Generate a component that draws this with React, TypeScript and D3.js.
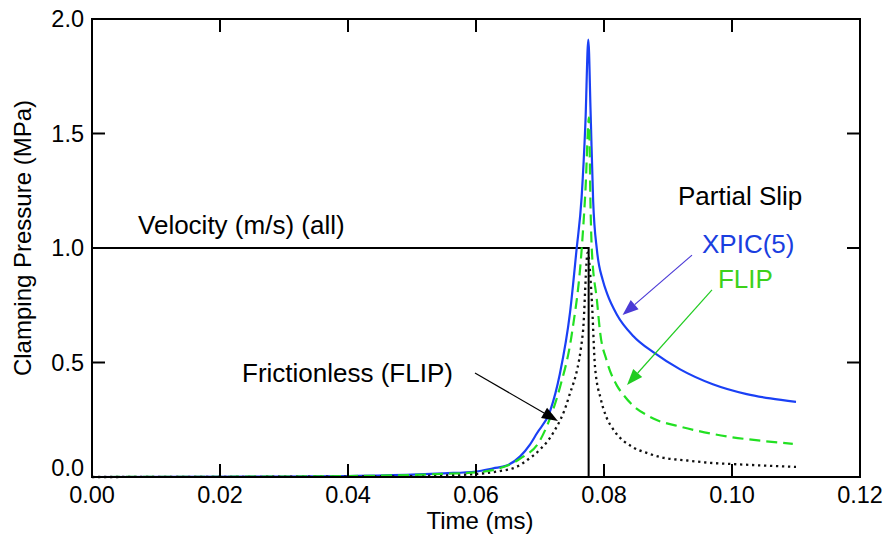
import React from "react";
import * as d3 from "d3";

const W = 888;
const H = 542;

const xTicks = [0, 0.02, 0.04, 0.06, 0.08, 0.1, 0.12];
const xTickLabels = ["0.00", "0.02", "0.04", "0.06", "0.08", "0.10", "0.12"];
const yTicks = [0, 0.5, 1.0, 1.5, 2.0];
const yTickLabels = ["0.0", "0.5", "1.0", "1.5", "2.0"];

// XPIC(5) partial slip (blue solid)
const xpicT = [0, 0.03, 0.04, 0.05, 0.055, 0.06, 0.0627, 0.0648, 0.0669, 0.0684, 0.0695, 0.0716, 0.0731, 0.0747, 0.0757, 0.0765, 0.0771, 0.07755, 0.0779, 0.0783, 0.0789, 0.0798, 0.0805, 0.082, 0.0846, 0.0877, 0.0919, 0.097, 0.1023, 0.106, 0.11];
const xpicV = [0, 0.002, 0.004, 0.01, 0.016, 0.024, 0.038, 0.05, 0.09, 0.14, 0.19, 0.29, 0.45, 0.72, 0.99, 1.22, 1.55, 1.91, 1.6, 1.21, 0.99, 0.86, 0.8, 0.71, 0.615, 0.545, 0.47, 0.405, 0.362, 0.343, 0.328];

// FLIP partial slip (green dashed)
const flipT = [0, 0.03, 0.04, 0.05, 0.055, 0.06, 0.063, 0.0669, 0.07, 0.072, 0.0731, 0.075, 0.0765, 0.0771, 0.07765, 0.0779, 0.0781, 0.0789, 0.0794, 0.0804, 0.082, 0.083, 0.0846, 0.0867, 0.0877, 0.0919, 0.0997, 0.105, 0.1095];
const flipV = [0, 0.002, 0.004, 0.009, 0.014, 0.02, 0.033, 0.08, 0.16, 0.29, 0.39, 0.63, 0.99, 1.25, 1.57, 1.17, 0.99, 0.77, 0.63, 0.51, 0.4, 0.36, 0.31, 0.27, 0.255, 0.22, 0.175, 0.157, 0.145];

// Frictionless FLIP (black dotted)
const fricT = [0, 0.04, 0.05, 0.055, 0.06, 0.0635, 0.0664, 0.068, 0.07, 0.072, 0.0744, 0.0767, 0.07745, 0.0781, 0.0786, 0.0795, 0.0804, 0.0814, 0.0845, 0.0867, 0.0888, 0.093, 0.097, 0.0997, 0.105, 0.11];
const fricV = [0, 0.002, 0.004, 0.007, 0.013, 0.025, 0.045, 0.074, 0.12, 0.19, 0.34, 0.63, 0.98, 0.77, 0.48, 0.34, 0.26, 0.21, 0.13, 0.105, 0.087, 0.072, 0.061, 0.057, 0.05, 0.044];

// Velocity (m/s), all cases
const velT = [0, 0.0776, 0.0776];
const velV = [1, 1, 0];

export default function App() {
  const x = d3.scaleLinear().domain([0, 0.12]).range([92, 860]);
  const y = d3.scaleLinear().domain([0, 2]).range([477, 19]);

  const mk = (ts: number[], vs: number[], curve = d3.curveMonotoneX) =>
    d3
      .line<number>()
      .x((_, i) => x(ts[i]))
      .y((v) => y(v))
      .curve(curve)(vs) || "";

  const font = "'Liberation Sans', Arial, Helvetica, sans-serif";

  const arrow = (t0: number, v0: number, t1: number, v1: number, color: string, hl = 16, hw = 6) => {
    const x0 = x(t0), y0 = y(v0), x1 = x(t1), y1 = y(v1);
    const dx = x1 - x0, dy = y1 - y0;
    const L = Math.hypot(dx, dy);
    const ux = dx / L, uy = dy / L;
    const bx = x1 - ux * hl, by = y1 - uy * hl;
    const px = -uy, py = ux;
    const pts = `${x1},${y1} ${bx + px * hw},${by + py * hw} ${bx - px * hw},${by - py * hw}`;
    return (
      <g>
        <line x1={x0} y1={y0} x2={bx} y2={by} stroke={color} strokeWidth={1.2} />
        <polygon points={pts} fill={color} />
      </g>
    );
  };

  const tickLen = 13;

  return (
    <svg width={W} height={H} style={{ position: "absolute", left: 0, top: 0, background: "#fff" }} fontFamily={font}>
      <rect x={0} y={0} width={W} height={H} fill="#fff" />
      {/* series */}
      <path d={mk(velT, velV, d3.curveLinear)} fill="none" stroke="#000" strokeWidth={2} />
      <path d={mk(xpicT, xpicV)} fill="none" stroke="#1a40f5" strokeWidth={2.2} />
      <path d={mk(fricT, fricV)} fill="none" stroke="#111" strokeWidth={2.3} strokeDasharray="2.3,3.7" />
      <path d={mk(flipT, flipV)} fill="none" stroke="#22e022" strokeWidth={2.2} strokeDasharray="11,6" />

      {/* frame */}
      <rect x={92} y={19} width={768} height={458} fill="none" stroke="#000" strokeWidth={2} />
      {xTicks.slice(1, -1).map((t) => (
        <g key={"xt" + t}>
          <line x1={x(t)} x2={x(t)} y1={477} y2={477 - tickLen} stroke="#000" strokeWidth={2} />
          <line x1={x(t)} x2={x(t)} y1={19} y2={19 + tickLen} stroke="#000" strokeWidth={2} />
        </g>
      ))}
      {yTicks.slice(1, -1).map((v) => (
        <g key={"yt" + v}>
          <line x1={92} x2={92 + tickLen} y1={y(v)} y2={y(v)} stroke="#000" strokeWidth={2} />
          <line x1={860} x2={860 - tickLen} y1={y(v)} y2={y(v)} stroke="#000" strokeWidth={2} />
        </g>
      ))}
      {xTicks.map((t, i) => (
        <text key={"xl" + t} x={x(t)} y={503} textAnchor="middle" fontSize={23.5} fill="#000">
          {xTickLabels[i]}
        </text>
      ))}
      {yTicks.map((v, i) => (
        <text key={"yl" + v} x={84} y={y(v) + (i === 0 ? -9 : 0)} dy="0.36em" textAnchor="end" fontSize={23.5} fill="#000">
          {yTickLabels[i]}
        </text>
      ))}
      <text x={480} y={529} textAnchor="middle" fontSize={24} fill="#000">Time (ms)</text>
      <text transform="translate(31,238) rotate(-90)" textAnchor="middle" fontSize={24} fill="#000">
        Clamping Pressure (MPa)
      </text>

      {/* annotations */}
      <text x={x(0.00719)} y={y(1.061)} fontSize={26} fill="#000">Velocity (m/s) (all)</text>
      <text x={x(0.09156)} y={y(1.188)} fontSize={26} fill="#000">Partial Slip</text>
      <text x={x(0.09531)} y={y(0.978)} fontSize={26} fill="#1a3ee0">XPIC(5)</text>
      <text x={x(0.09781)} y={y(0.825)} fontSize={26} fill="#3dd11a">FLIP</text>
      <text x={x(0.02344)} y={y(0.415)} fontSize={26} fill="#000">Frictionless (FLIP)</text>
      {arrow(0.09375, 0.969, 0.0829, 0.707, "#4b3ad6")}
      {arrow(0.096875, 0.817, 0.0836, 0.402, "#22cc22")}
      {arrow(0.05984, 0.454, 0.0728, 0.245, "#000")}
    </svg>
  );
}
